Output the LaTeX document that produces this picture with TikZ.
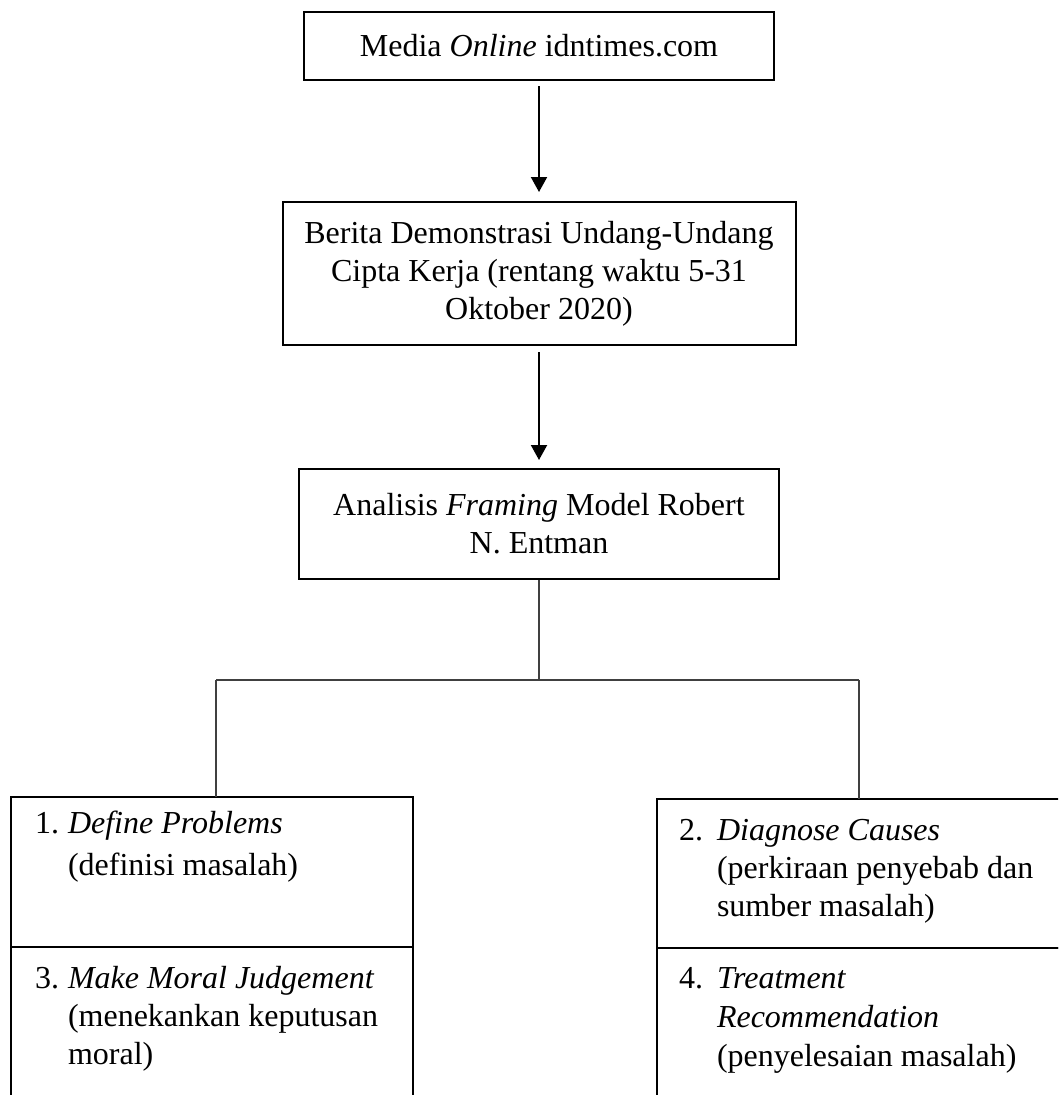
\documentclass[tikz,border=0pt]{standalone}
\usepackage{fontspec}
\setmainfont{Liberation Serif}
\usetikzlibrary{arrows.meta}
\newcommand\fsz{\fontsize{32}{38}\selectfont}
\begin{document}
\begin{tikzpicture}[x=1pt,y=-1pt,
  box/.style={draw, line width=2pt, align=center, inner sep=0pt, font=\fsz},
  cell/.style={draw, line width=2pt, inner sep=0pt, outer sep=0pt, anchor=north west},
  txt/.style={inner sep=0pt, outer sep=0pt, anchor=north west, font=\fsz},
  arr/.style={line width=2pt, -{Triangle[length=15pt,width=16pt]}},
  conn/.style={line width=1.3pt, black!75}]
\useasboundingbox (0,0) rectangle (1058,1095);
\clip (0,0) rectangle (1058,1095);
\fill[white] (0,0) rectangle (1058,1095);

\node[box, minimum width=470pt, minimum height=68pt] (media) at (539,46) {Media \textit{Online} idntimes.com};
\node[box, minimum width=513pt, minimum height=143pt] (b2) at (539,273.5) {Berita Demonstrasi Undang-Undang\\Cipta Kerja (rentang waktu 5-31\\Oktober 2020)};
\node[box, minimum width=480pt, minimum height=110pt] (b3) at (539,524) {Analisis \textit{Framing} Model Robert\\N. Entman};

\node[cell, minimum width=402pt, minimum height=150pt] (c1) at (11,797) {};
\node[cell, minimum width=402pt, minimum height=170pt] (c3) at (11,947) {};
\node[cell, minimum width=420pt, minimum height=149pt] (c2) at (657,799) {};
\node[cell, minimum width=420pt, minimum height=170pt] (c4) at (657,948) {};

\node[txt] (t1) at (35,806.4) {\begin{tabular}{@{}p{33pt}@{}l@{}}1. & \textit{Define Problems}\\[4pt] & (definisi masalah)\end{tabular}};
\node[txt] (t3) at (35,961.4) {\begin{tabular}{@{}p{33pt}@{}l@{}}3. & \textit{Make Moral Judgement}\\ & (menekankan keputusan\\ & moral)\end{tabular}};
\node[txt] (t2) at (679,813.4) {\begin{tabular}{@{}p{38pt}@{}l@{}}2. & \textit{Diagnose Causes}\\ & (perkiraan penyebab dan\\ & sumber masalah)\end{tabular}};
\node[txt] (t4) at (679,961.4) {\begin{tabular}{@{}p{38pt}@{}l@{}}4. & \textit{Treatment}\\[1pt] & \textit{Recommendation}\\[1pt] & (penyelesaian masalah)\end{tabular}};

\draw[arr, shorten <=5pt, shorten >=9pt] (media.south) -- (b2.north);
\draw[arr, shorten <=6pt, shorten >=8pt] (b2.south) -- (b3.north);

\coordinate (j) at (539,680);
\coordinate (jl) at (216,680);
\coordinate (jr) at (859,680);
\draw[conn] (b3.south) -- (j);
\draw[conn] (jl) -- (jr);
\draw[conn] (jl) -- (jl |- c1.north);
\draw[conn] (jr) -- (jr |- c2.north);
\end{tikzpicture}
\end{document}
